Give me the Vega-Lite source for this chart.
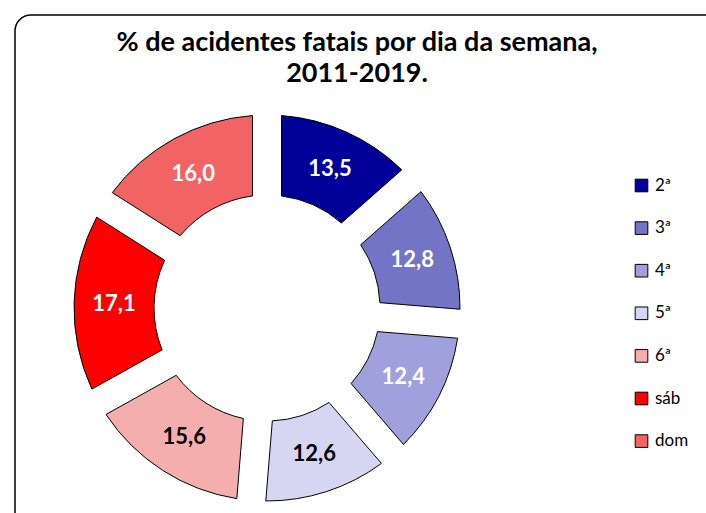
{
  "$schema": "https://vega.github.io/schema/vega-lite/v6.json",
  "autosize": "none",
  "padding": {"left": 15, "top": 15, "right": 0, "bottom": 0},
  "width": 740,
  "height": 540,
  "view": {"stroke": "black", "strokeWidth": 1.5, "cornerRadius": 16, "fill": "white"},
  "config": {
    "font": "Lato",
    "locale": {"number": {"decimal": ",", "thousands": ".", "grouping": [3], "currency": ["", " €"]}}
  },
  "title": {
    "text": ["% de acidentes fatais por dia da semana,", "2011-2019."],
    "fontSize": 27,
    "fontWeight": "bold",
    "color": "black",
    "anchor": "middle",
    "frame": "group",
    "dx": -28,
    "offset": -73,
    "lineHeight": 31
  },
  "data": {
    "values": [
      {"dia": "2ª", "ordem": 1, "pct": 13.5},
      {"dia": "3ª", "ordem": 2, "pct": 12.8},
      {"dia": "4ª", "ordem": 3, "pct": 12.4},
      {"dia": "5ª", "ordem": 4, "pct": 12.6},
      {"dia": "6ª", "ordem": 5, "pct": 15.6},
      {"dia": "sáb", "ordem": 6, "pct": 17.1},
      {"dia": "dom", "ordem": 7, "pct": 16.0}
    ]
  },
  "encoding": {
    "theta": {"field": "pct", "type": "quantitative", "stack": true},
    "order": {"field": "ordem", "type": "quantitative"}
  },
  "layer": [
    {
      "mark": {"type": "arc", "x": 252, "y": 293, "innerRadius": 113, "outerRadius": 193, "padAngle": 0.13, "stroke": "black", "strokeWidth": 1},
      "encoding": {
        "color": {
          "field": "dia", "type": "nominal",
          "scale": {
            "domain": ["2ª", "3ª", "4ª", "5ª", "6ª", "sáb", "dom"],
            "range": ["#000099", "#7474c6", "#a0a0dc", "#d6d6f2", "#f5aeae", "#ff0000", "#f26464"]
          },
          "legend": {
            "title": null,
            "orient": "none",
            "legendX": 618,
            "legendY": 162,
            "symbolType": "square",
            "symbolSize": 160,
            "symbolStrokeColor": "black",
            "symbolStrokeWidth": 1,
            "labelFontSize": 17,
            "labelColor": "black",
            "labelFont": "Lato",
            "rowPadding": 24.6,
            "labelOffset": 5
          }
        }
      }
    },
    {
      "mark": {"type": "text", "x": 252, "y": 293, "radius": 153, "fontSize": 22, "fontWeight": "bold", "font": "Lato"},
      "encoding": {
        "text": {"field": "pct", "type": "quantitative", "format": ".1f"},
        "color": {
          "condition": {"test": "datum.dia === '5ª' || datum.dia === '6ª'", "value": "black"},
          "value": "white"
        }
      }
    }
  ]
}
